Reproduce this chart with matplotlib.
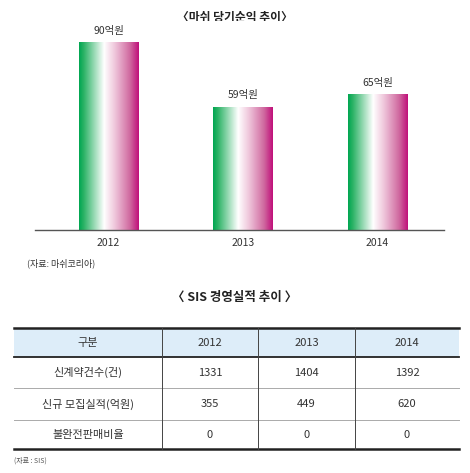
import numpy as np
import matplotlib
matplotlib.use('Agg')
import matplotlib.pyplot as plt
from matplotlib.colors import LinearSegmentedColormap

plt.rcParams['font.family'] = ['Noto Sans CJK KR', 'DejaVu Sans']

years = ['2012', '2013', '2014']
net_income = [90, 59, 65]
income_labels = ['90억원', '59억원', '65억원']

row_names = ['신계약건수(건)', '신규 모집실적(억원)', '불완전판매비율']
new_contracts = [1331, 1404, 1392]
new_sales = [355, 449, 620]
mis_selling = [0, 0, 0]

W, H = 470, 473
fig = plt.figure(figsize=(W / 100, H / 100), dpi=100)
txt = '#333333'

# overlay axes in pixel coords for titles and table
ov = fig.add_axes([0, 0, 1, 1])
ov.set_xlim(0, W)
ov.set_ylim(H, 0)
ov.axis('off')

# bar chart
ax = fig.add_axes([35 / W, (H - 230) / H, 409 / W, 209 / H])
cmap = LinearSegmentedColormap.from_list('gm', [
    (0.0, '#00a651'), (0.08, '#2cb366'), (0.42, '#ffffff'),
    (0.60, '#efc6db'), (0.85, '#d06aa0'), (1.0, '#c0107a')])
grad = np.linspace(0, 1, 256).reshape(1, -1)
bars = ax.bar(range(3), net_income, width=0.44, color='none')
for b, lab in zip(bars, income_labels):
    x0, w, h = b.get_x(), b.get_width(), b.get_height()
    im = ax.imshow(grad, cmap=cmap, aspect='auto',
                   extent=(x0, x0 + w, 0, h), zorder=2)
    im.set_clip_path(b)
    ax.text(x0 + w / 2, h + 3, lab, ha='center', va='bottom',
            fontsize=7.5, color=txt)
ax.set_xlim(-0.546, 2.494)
ax.set_ylim(0, 100)
for s in ['top', 'right', 'left']:
    ax.spines[s].set_visible(False)
ax.spines['bottom'].set_color('#555555')
ax.spines['bottom'].set_linewidth(1.0)
ax.set_yticks([])
ax.set_xticks(range(3))
ax.set_xticklabels(years, fontsize=7.5, color=txt)
ax.tick_params(axis='x', length=0, pad=6)

ov.text(W / 2, 17, '〈마쉬 당기순익 추이〉', ha='center', va='center',
        fontsize=8.5, fontweight='bold', color='#222222')
ov.text(27, 263, '(자료: 마쉬코리아)', ha='left', va='center',
        fontsize=6.5, color=txt)

# table
ov.text(W / 2, 297, '〈 SIS 경영실적 추이 〉', ha='center', va='center',
        fontsize=9, fontweight='bold', color='#222222')
tx0, tx1 = 14, 459
cols = [tx0, 162, 258, 355, tx1]
rows = [328, 357, 388, 420, 449]
ov.fill_between([tx0, tx1], rows[0], rows[1], color='#ddedf9', lw=0)
ov.plot([tx0, tx1], [rows[0]] * 2, color='#222222', lw=1.8)
ov.plot([tx0, tx1], [rows[1]] * 2, color='#222222', lw=1.3)
ov.plot([tx0, tx1], [rows[2]] * 2, color='#aaaaaa', lw=0.7)
ov.plot([tx0, tx1], [rows[3]] * 2, color='#aaaaaa', lw=0.7)
ov.plot([tx0, tx1], [rows[4]] * 2, color='#222222', lw=1.8)
for c in cols[1:-1]:
    ov.plot([c, c], [rows[0], rows[4]], color='#444444', lw=0.7)

header = ['구분'] + years
cells = [header,
         [row_names[0]] + [str(v) for v in new_contracts],
         [row_names[1]] + [str(v) for v in new_sales],
         [row_names[2]] + [str(v) for v in mis_selling]]
for r, line in enumerate(cells):
    yc = (rows[r] + rows[r + 1]) / 2
    for c, val in enumerate(line):
        xc = (cols[c] + cols[c + 1]) / 2
        ov.text(xc, yc, val, ha='center', va='center', fontsize=8,
                color=txt)

ov.text(14, 461, '(자료 : SIS)', ha='left', va='center', fontsize=5,
        color='#555555')

fig.savefig('out.png', dpi=100)
